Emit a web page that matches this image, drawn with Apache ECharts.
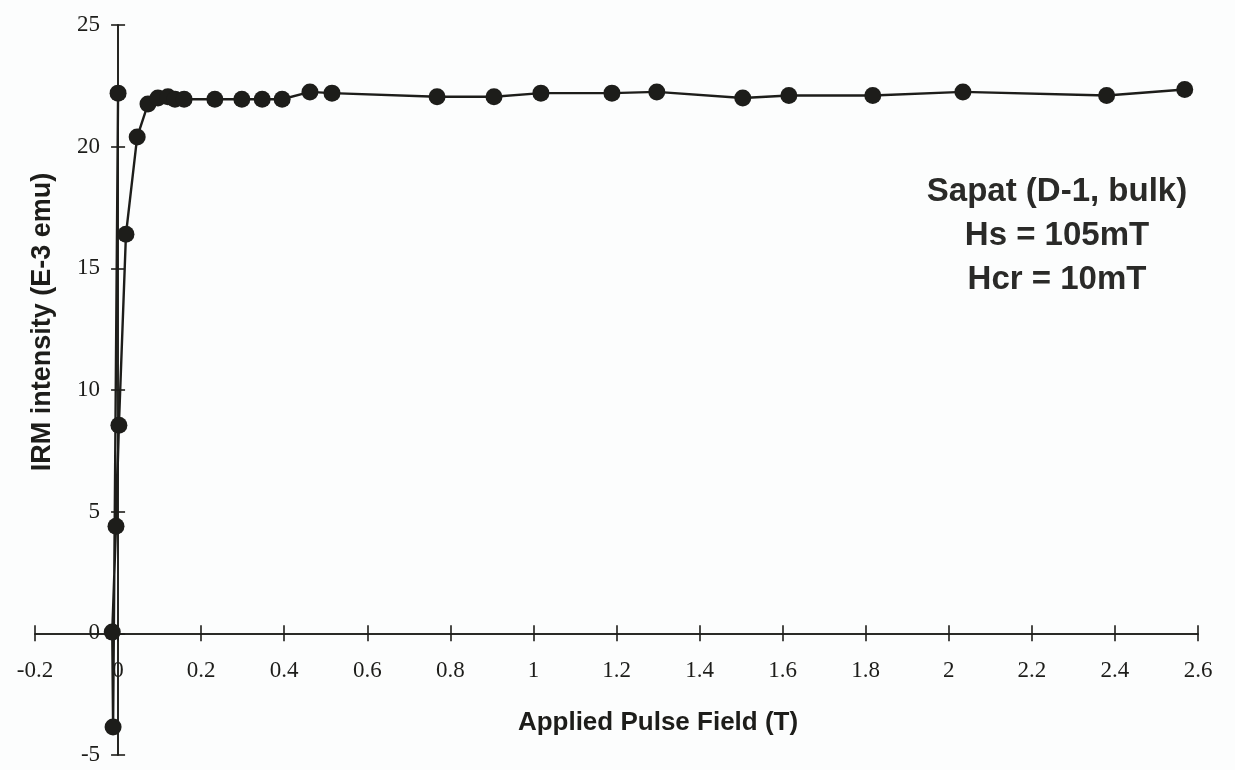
<!DOCTYPE html>
<html>
<head>
<meta charset="utf-8">
<title>IRM acquisition – Sapat (D-1, bulk)</title>
<script src="https://cdn.jsdelivr.net/npm/echarts@6/dist/echarts.min.js"></script>
<style>
  html, body { margin: 0; padding: 0; background: #fcfdfd; }
  #chart { width: 1235px; height: 770px; }
</style>
</head>
<body>
<div id="chart"></div>
<script>
// Applied pulse field (T) in measurement order
const fieldT = [0, -0.012, -0.014, -0.005, 0.002, 0.019, 0.046, 0.072, 0.096, 0.12, 0.137, 0.159,
  0.233, 0.298, 0.347, 0.395, 0.462, 0.515, 0.768, 0.905, 1.018, 1.189, 1.297, 1.504, 1.615,
  1.817, 2.034, 2.38, 2.568];
// IRM intensity (E-3 emu)
const irm = [22.2, -3.85, 0.05, 4.4, 8.55, 16.4, 20.4, 21.75, 22.0, 22.05, 21.95, 21.95,
  21.95, 21.95, 21.95, 21.95, 22.25, 22.2, 22.05, 22.05, 22.2, 22.2, 22.25, 22.0, 22.1,
  22.1, 22.25, 22.1, 22.35];
// Axis ranges and tick steps
const xRange = [-0.2, 2.6], xStep = 0.2;
const yRange = [-5, 25], yStep = 5;
// Sample annotation
const noteLines = ['Sapat (D-1, bulk)', 'Hs = 105mT', 'Hcr = 10mT'];
const xTitle = 'Applied Pulse Field (T)';
const yTitle = 'IRM intensity (E-3 emu)';

const ink = '#1d1d1a';
const serif = '"Liberation Serif", "Times New Roman", serif';
const sans = '"Liberation Sans", Arial, sans-serif';

const W = 1235, H = 770;
const box = { left: 35, right: 37, top: 25, bottom: 15 };
const plotW = W - box.left - box.right;
const plotH = H - box.top - box.bottom;
// Pixel position of the zero lines, where the axes cross
const zeroX = box.left + (0 - xRange[0]) / (xRange[1] - xRange[0]) * plotW;
const zeroY = box.top + (yRange[1] - 0) / (yRange[1] - yRange[0]) * plotH;

const points = fieldT.map((x, i) => [x, irm[i]]);

function fmtX(v) {
  return String(Math.round(v * 10) / 10);
}

const gridBase = { outerBoundsMode: 'none', containLabel: false };
// 0: data plot; 1-2: horizontal axis along y = 0; 3-4: vertical axis along x = 0
const grids = [
  Object.assign({}, gridBase, box),
  Object.assign({}, gridBase, { left: box.left, right: box.right, top: box.top, bottom: H - zeroY }),
  Object.assign({}, gridBase, { left: box.left, right: box.right, top: box.top, bottom: H - zeroY }),
  Object.assign({}, gridBase, { left: zeroX, right: box.right, top: box.top, bottom: box.bottom }),
  Object.assign({}, gridBase, { left: zeroX, right: box.right, top: box.top, bottom: box.bottom })
];

const axisLineStyle = { color: ink, width: 1.6 };
const hiddenAxis = (gridIndex) => ({ type: 'value', gridIndex, show: false, min: 0, max: 1 });

// Outward ticks on one copy, inward on the other: every tick crosses the axis line
const xVisible = (gridIndex, inside) => ({
  type: 'value', gridIndex, position: 'bottom', min: xRange[0], max: xRange[1], interval: xStep,
  splitLine: { show: false },
  axisLine: { onZero: false, lineStyle: axisLineStyle },
  axisTick: { inside, length: 8, lineStyle: axisLineStyle },
  axisLabel: inside ? { show: false }
    : { color: ink, fontFamily: serif, fontSize: 23, margin: 26, formatter: fmtX }
});
const yVisible = (gridIndex, inside) => ({
  type: 'value', gridIndex, position: 'left', min: yRange[0], max: yRange[1], interval: yStep,
  splitLine: { show: false },
  axisLine: { onZero: false, lineStyle: axisLineStyle },
  axisTick: { inside, length: 7, lineStyle: axisLineStyle },
  axisLabel: inside ? { show: false }
    : { color: ink, fontFamily: serif, fontSize: 23, margin: 18 }
});

const chart = echarts.init(document.getElementById('chart'), null, { renderer: 'canvas' });
chart.setOption({
  backgroundColor: '#fcfdfd',
  animation: false,
  grid: grids,
  xAxis: [
    { type: 'value', gridIndex: 0, show: false, min: xRange[0], max: xRange[1] },
    xVisible(1, false),
    xVisible(2, true),
    hiddenAxis(3),
    hiddenAxis(4)
  ],
  yAxis: [
    { type: 'value', gridIndex: 0, show: false, min: yRange[0], max: yRange[1] },
    hiddenAxis(1),
    hiddenAxis(2),
    yVisible(3, false),
    yVisible(4, true)
  ],
  graphic: [
    {
      type: 'text', x: 658, y: 723,
      style: { text: xTitle, fill: ink, font: 'bold 26px ' + sans, align: 'center', verticalAlign: 'middle' }
    },
    {
      type: 'text', x: 43, y: 322, rotation: Math.PI / 2,
      style: { text: yTitle, fill: ink, font: 'bold 27px ' + sans, align: 'center', verticalAlign: 'middle' }
    },
    ...noteLines.map((t, i) => ({
      type: 'text', x: 1057, y: 192 + i * 44,
      style: { text: t, fill: '#2a2a28', font: 'bold 33px ' + sans, align: 'center', verticalAlign: 'middle' }
    }))
  ],
  series: [{
    type: 'line',
    data: points,
    xAxisIndex: 0,
    yAxisIndex: 0,
    symbol: 'circle',
    symbolSize: 17,
    showAllSymbol: true,
    lineStyle: { color: ink, width: 2.4 },
    itemStyle: { color: ink, borderWidth: 0 },
    clip: false,
    z: 5
  }]
});
</script>
</body>
</html>
